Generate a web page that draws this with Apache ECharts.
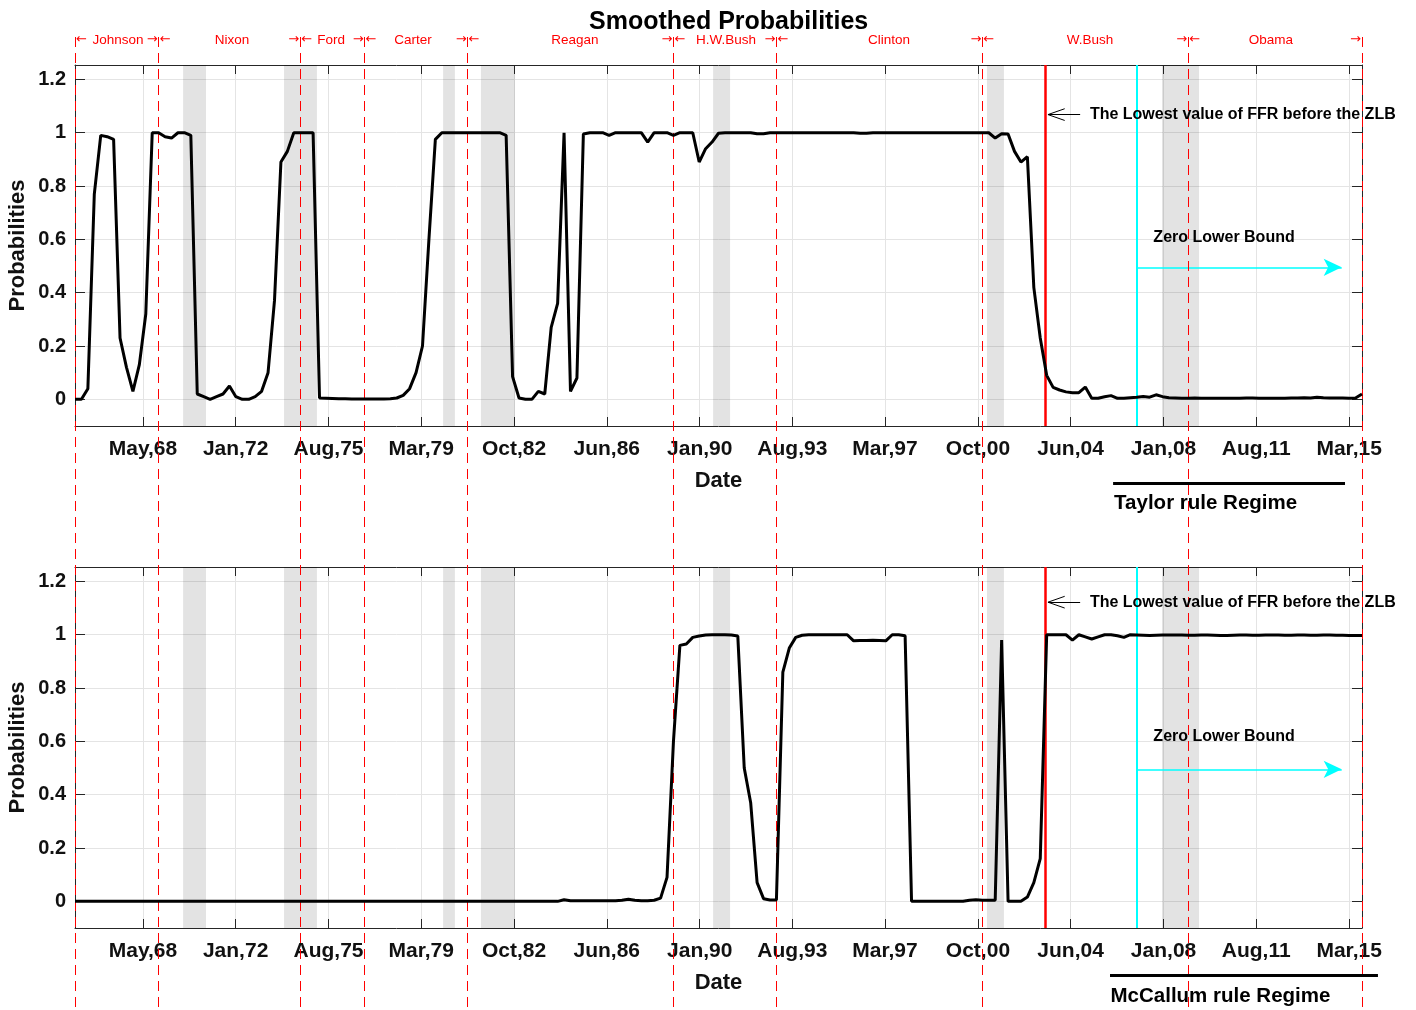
<!DOCTYPE html>
<html>
<head>
<meta charset="utf-8">
<title>Smoothed Probabilities</title>
<style>
  html, body { margin: 0; padding: 0; background: #fff; }
  #chart { width: 1416px; height: 1010px; }
</style>
<script src="https://cdn.jsdelivr.net/npm/echarts@6/dist/echarts.min.js"></script>
</head>
<body>
<div id="chart"></div>
<script>
// quarterly sample, first obs 1965Q4
var startYear = 1965.75;
var endYear = 2015.75;
var stepYear = 0.25;

// Taylor rule regime, smoothed probabilities
var taylorProb = [
  0, 0, 0.04, 0.77, 0.99, 0.985, 0.975, 0.23, 0.12, 0.03,
  0.13, 0.32, 1.0, 1.0, 0.985, 0.98, 1.0, 1.0, 0.99, 0.02,
  0.01, 0.0, 0.01, 0.02, 0.05, 0.01, 0.0, 0.0, 0.01, 0.03,
  0.1, 0.37, 0.89, 0.93, 1.0, 1.0, 1.0, 1.0, 0.005, 0.004,
  0.003, 0.002, 0.002, 0.001, 0.001, 0.001, 0.001, 0.001, 0.001, 0.002,
  0.005, 0.015, 0.04, 0.1, 0.2, 0.6, 0.975, 1.0, 1.0, 1.0,
  1.0, 1.0, 1.0, 1.0, 1.0, 1.0, 1.0, 0.99, 0.085, 0.005,
  0.0, 0.0, 0.03, 0.02, 0.27, 0.36, 1.0, 0.03, 0.08, 0.995,
  1.0, 1.0, 1.0, 0.99, 1.0, 1.0, 1.0, 1.0, 1.0, 0.965,
  1.0, 1.0, 1.0, 0.99, 1.0, 1.0, 1.0, 0.89, 0.94, 0.965,
  0.998, 1.0, 1.0, 1.0, 1.0, 1.0, 0.996, 0.996, 1.0, 1.0,
  1.0, 1.0, 1.0, 1.0, 1.0, 1.0, 1.0, 1.0, 1.0, 1.0,
  1.0, 1.0, 0.998, 0.998, 1.0, 1.0, 1.0, 1.0, 1.0, 1.0,
  1.0, 1.0, 1.0, 1.0, 1.0, 1.0, 1.0, 1.0, 1.0, 1.0,
  1.0, 1.0, 1.0, 0.98, 0.996, 0.995, 0.93, 0.89, 0.91, 0.42,
  0.23, 0.09, 0.045, 0.035, 0.028, 0.025, 0.025, 0.046, 0.004, 0.004,
  0.01, 0.014, 0.004, 0.004, 0.006, 0.008, 0.011, 0.008, 0.017, 0.01,
  0.006, 0.005, 0.004, 0.004, 0.005, 0.004, 0.004, 0.004, 0.004, 0.004,
  0.004, 0.004, 0.005, 0.005, 0.004, 0.004, 0.004, 0.004, 0.004, 0.005,
  0.005, 0.006, 0.005, 0.008, 0.006, 0.005, 0.005, 0.005, 0.004, 0.005,
  0.02
];

// McCallum rule regime, smoothed probabilities
var mccallumProb = [
  0, 0, 0, 0, 0, 0, 0, 0, 0, 0,
  0, 0, 0, 0, 0, 0, 0, 0, 0, 0,
  0, 0, 0, 0, 0, 0, 0, 0, 0, 0,
  0, 0, 0, 0, 0, 0, 0, 0, 0, 0,
  0, 0, 0, 0, 0, 0, 0, 0, 0, 0,
  0, 0, 0, 0, 0, 0, 0, 0, 0, 0,
  0, 0, 0, 0, 0, 0, 0, 0, 0, 0,
  0, 0, 0, 0, 0, 0, 0.006, 0.002, 0.002, 0.002,
  0.002, 0.002, 0.002, 0.002, 0.002, 0.004, 0.008, 0.004, 0.002, 0.002,
  0.004, 0.012, 0.09, 0.6, 0.96, 0.965, 0.99, 0.995, 0.999, 1.0,
  1.0, 1.0, 0.999, 0.995, 0.5, 0.37, 0.07, 0.01, 0.005, 0.005,
  0.86, 0.95, 0.99, 0.998, 1.0, 1.0, 1.0, 1.0, 1.0, 1.0,
  1.0, 0.977, 0.978, 0.978, 0.979, 0.978, 0.977, 1.0, 1.0, 0.996,
  0.0, 0.0, 0.0, 0.0, 0.0, 0.0, 0.0, 0.0, 0.0, 0.004,
  0.006, 0.004, 0.004, 0.004, 0.98, 0.0, 0.0, 0.0, 0.016, 0.07,
  0.16, 1.0, 1.0, 1.0, 1.0, 0.98, 1.0, 0.992, 0.984, 0.992,
  1.0, 1.0, 0.996, 0.99, 1.0, 0.999, 0.998, 0.997, 0.998, 0.999,
  0.999, 0.999, 0.999, 0.998, 0.998, 0.999, 0.999, 0.998, 0.997, 0.997,
  0.998, 0.999, 0.999, 0.998, 0.998, 0.999, 0.999, 0.999, 0.998, 0.998,
  0.999, 0.999, 0.998, 0.998, 0.999, 0.999, 0.998, 0.998, 0.997, 0.997,
  0.997
];

var tickYears = [1968.39, 1971.99, 1975.60, 1979.20, 1982.81, 1986.41, 1990.02,
                 1993.62, 1997.22, 2000.83, 2004.43, 2008.04, 2011.64, 2015.25];
var tickLabels = ['May,68', 'Jan,72', 'Aug,75', 'Mar,79', 'Oct,82', 'Jun,86', 'Jan,90',
                  'Aug,93', 'Mar,97', 'Oct,00', 'Jun,04', 'Jan,08', 'Aug,11', 'Mar,15'];
var yTicks = [0, 0.2, 0.4, 0.6, 0.8, 1, 1.2];

var termBounds = [1965.75, 1969.0, 1974.5, 1977.0, 1981.0, 1989.0, 1993.0, 2001.0, 2009.0, 2015.75];
var presidents = ['Johnson', 'Nixon', 'Ford', 'Carter', 'Reagan', 'H.W.Bush', 'Clinton', 'W.Bush', 'Obama'];
var presidentLabelYears = [1967.42, 1971.85, 1975.70, 1978.88, 1985.17, 1991.04, 1997.37, 2005.18, 2012.21];

var recessions = [[1969.95, 1970.84], [1973.87, 1975.15], [1980.05, 1980.51], [1981.52, 1982.84],
                  [1990.54, 1991.20], [2001.18, 2001.84], [2007.98, 2009.42]];

var ffrLowDate = 2003.46;
var zlbDate = 2007.0;
var zlbArrowEnd = 2014.96;

// layout
var W = 1416, H = 1010;
var plotLeft = 75, plotRight = 54;
var pxPerYear = (W - plotLeft - plotRight) / (endYear - startYear);
var FONT = "'Liberation Sans', Arial, Helvetica, sans-serif";
var BOX = '#262626';

function toPairs(arr) {
  return arr.map(function (v, i) { return [startYear + i * stepYear, v]; });
}
function tickName(v) {
  var best = 0;
  for (var k = 1; k < tickYears.length; k++) {
    if (Math.abs(tickYears[k] - v) < Math.abs(tickYears[best] - v)) best = k;
  }
  return tickLabels[best];
}

function bottomX(gridIndex) {
  return {
    type: 'value', gridIndex: gridIndex, position: 'bottom',
    min: startYear, max: endYear,
    axisLine: { show: true, onZero: false, lineStyle: { color: BOX, width: 1 } },
    axisTick: { show: true, inside: true, length: 9, customValues: tickYears, lineStyle: { color: BOX } },
    axisLabel: { show: true, customValues: tickYears, formatter: tickName, margin: 13,
                 color: '#111', fontFamily: FONT, fontWeight: 'bold', fontSize: 21 },
    splitLine: { show: true, lineStyle: { color: '#e4e4e4', width: 1 } },
    name: 'Date', nameLocation: 'middle', nameGap: 44, nameMoveOverlap: false,
    nameTextStyle: { color: '#111', fontFamily: FONT, fontWeight: 'bold', fontSize: 22 }
  };
}
function topX(gridIndex) {
  return {
    type: 'value', gridIndex: gridIndex, position: 'top',
    min: startYear, max: endYear,
    axisLine: { show: true, onZero: false, lineStyle: { color: BOX, width: 1 } },
    axisTick: { show: true, inside: true, length: 9, customValues: tickYears, lineStyle: { color: BOX } },
    axisLabel: { show: false }, splitLine: { show: false }
  };
}
function leftY(gridIndex) {
  return {
    type: 'value', gridIndex: gridIndex, position: 'left',
    min: -0.1, max: 1.254,
    axisLine: { show: true, onZero: false, lineStyle: { color: BOX, width: 1 } },
    axisTick: { show: true, inside: true, length: 10, customValues: yTicks, lineStyle: { color: BOX } },
    axisLabel: { show: true, customValues: yTicks, margin: 9,
                 formatter: function (v) { return String(+v.toFixed(1)); },
                 color: '#111', fontFamily: FONT, fontWeight: 'bold', fontSize: 20 },
    splitLine: { show: true, lineStyle: { color: '#e4e4e4', width: 1 } },
    name: 'Probabilities', nameLocation: 'middle', nameGap: 46, nameRotate: 90, nameMoveOverlap: false,
    nameTextStyle: { color: '#111', fontFamily: FONT, fontWeight: 'bold', fontSize: 22 }
  };
}
function rightY(gridIndex) {
  return {
    type: 'value', gridIndex: gridIndex, position: 'right',
    min: -0.1, max: 1.254,
    axisLine: { show: true, onZero: false, lineStyle: { color: BOX, width: 1 } },
    axisTick: { show: true, inside: true, length: 10, customValues: yTicks, lineStyle: { color: BOX } },
    axisLabel: { show: false }, splitLine: { show: false }
  };
}

function plotMarks(arrowY) {
  var head = 0.65, spread = 0.022, shaft = 1.25, tip = ffrLowDate + 0.09;
  var blk = { color: '#000', width: 1, type: 'solid' };
  return {
    silent: true, symbol: 'none', animation: false,
    label: { show: false },
    data: [
      [{ coord: [tip + shaft, arrowY], lineStyle: blk }, { coord: [tip, arrowY] }],
      [{ coord: [tip + head, arrowY + spread], lineStyle: blk }, { coord: [tip, arrowY] }],
      [{ coord: [tip + head, arrowY - spread], lineStyle: blk }, { coord: [tip, arrowY] }],
      { xAxis: ffrLowDate, lineStyle: { color: '#ff0000', width: 2.5, type: 'solid' } },
      { xAxis: zlbDate, lineStyle: { color: '#00ffff', width: 2, type: 'solid' } },
      [{ coord: [zlbDate, 0.495], symbol: 'none', lineStyle: { color: '#00ffff', width: 1.5, type: 'solid' } },
       { coord: [zlbArrowEnd, 0.495], symbol: 'arrow', symbolSize: [13, 18] }]
    ]
  };
}
function bandArea() {
  return {
    silent: true,
    itemStyle: { color: 'rgba(0,0,0,0.11)' },
    data: recessions.map(function (r) { return [{ xAxis: r[0] }, { xAxis: r[1] }]; })
  };
}
function probSeries(name, arr, idx, arrowY) {
  return {
    name: name, type: 'line', xAxisIndex: idx * 2, yAxisIndex: idx * 2,
    data: toPairs(arr), showSymbol: false, symbol: 'none', z: 5,
    lineStyle: { color: '#000', width: 3 },
    markArea: bandArea(),
    markLine: plotMarks(arrowY)
  };
}
function noteSeries(idx, arrowY, zlbY) {
  var txt = { show: true, color: '#000', fontFamily: FONT, fontWeight: 'bold', fontSize: 16 };
  return {
    type: 'scatter', xAxisIndex: idx * 2, yAxisIndex: idx * 2, symbolSize: 0, z: 6, silent: true,
    itemStyle: { opacity: 1 },
    data: [
      { value: [ffrLowDate + 1.72, arrowY],
        label: Object.assign({ formatter: 'The Lowest value of FFR before the ZLB', position: 'right', distance: 0 }, txt) },
      { value: [2010.39, zlbY],
        label: Object.assign({ formatter: 'Zero Lower Bound', position: 'inside' }, txt) }
    ]
  };
}

// overlay spanning the whole figure: president terms and regime captions
var lineTop = 37;
var overlayLines = termBounds.map(function (b) {
  return [{ coord: [b, lineTop] }, { coord: [b, H] }];
});
overlayLines.push([{ coord: [2006.08, 483], lineStyle: { color: '#000', width: 3, type: 'solid' } }, { coord: [2015.09, 483] }]);
overlayLines.push([{ coord: [2005.96, 975], lineStyle: { color: '#000', width: 3, type: 'solid' } }, { coord: [2016.37, 975] }]);

var red = { show: true, color: '#ff0000', fontFamily: FONT, fontSize: 13.5 };
var redArrow = { show: true, color: '#ff0000', fontFamily: "'DejaVu Sans', sans-serif", fontSize: 13 };
var overlayText = [];
presidents.forEach(function (p, k) {
  overlayText.push({ value: [presidentLabelYears[k], 40], label: Object.assign({ formatter: p, position: 'inside' }, red) });
});
termBounds.forEach(function (b, k) {
  if (k > 0) overlayText.push({ value: [b, 40], label: Object.assign({ formatter: '\u2192', position: 'left', distance: 1 }, redArrow) });
  if (k < termBounds.length - 1) overlayText.push({ value: [b, 40], label: Object.assign({ formatter: '\u2190', position: 'right', distance: 1 }, redArrow) });
});
var regimeTxt = { show: true, color: '#000', fontFamily: FONT, fontWeight: 'bold', fontSize: 20.5, position: 'right', distance: 0 };
overlayText.push({ value: [2006.12, 503], label: Object.assign({ formatter: 'Taylor rule Regime' }, regimeTxt) });
overlayText.push({ value: [2005.98, 996], label: Object.assign({ formatter: 'McCallum rule Regime' }, regimeTxt) });

var chart = echarts.init(document.getElementById('chart'), null, { renderer: 'canvas' });
chart.setOption({
  animation: false,
  backgroundColor: '#fff',
  title: {
    text: 'Smoothed Probabilities', left: 584, top: 5,
    textStyle: { color: '#000', fontFamily: FONT, fontWeight: 'bold', fontSize: 25 }
  },
  grid: [
    { left: plotLeft, right: plotRight, top: 65, height: 361, containLabel: false, outerBoundsMode: 'none' },
    { left: plotLeft, right: plotRight, top: 567, height: 361, containLabel: false, outerBoundsMode: 'none' },
    { left: 0, right: 0, top: 0, bottom: 0, containLabel: false, outerBoundsMode: 'none' }
  ],
  xAxis: [
    bottomX(0), topX(0), bottomX(1), topX(1),
    { type: 'value', gridIndex: 2, show: false,
      min: startYear - plotLeft / pxPerYear, max: endYear + plotRight / pxPerYear }
  ],
  yAxis: [
    leftY(0), rightY(0), leftY(1), rightY(1),
    { type: 'value', gridIndex: 2, show: false, min: 0, max: H, inverse: true }
  ],
  series: [
    probSeries('Taylor', taylorProb, 0, 1.068),
    probSeries('McCallum', mccallumProb, 1, 1.122),
    noteSeries(0, 1.068, 0.608),
    noteSeries(1, 1.122, 0.617),
    {
      type: 'line', xAxisIndex: 4, yAxisIndex: 4, data: [], z: 4,
      markLine: {
        silent: true, symbol: 'none', animation: false, label: { show: false },
        lineStyle: { color: '#ff0000', width: 1, type: [10, 6] },
        data: overlayLines
      }
    },
    {
      type: 'scatter', xAxisIndex: 4, yAxisIndex: 4, symbolSize: 0, z: 6, silent: true,
      itemStyle: { opacity: 1 },
      data: overlayText
    }
  ]
});
</script>
</body>
</html>
